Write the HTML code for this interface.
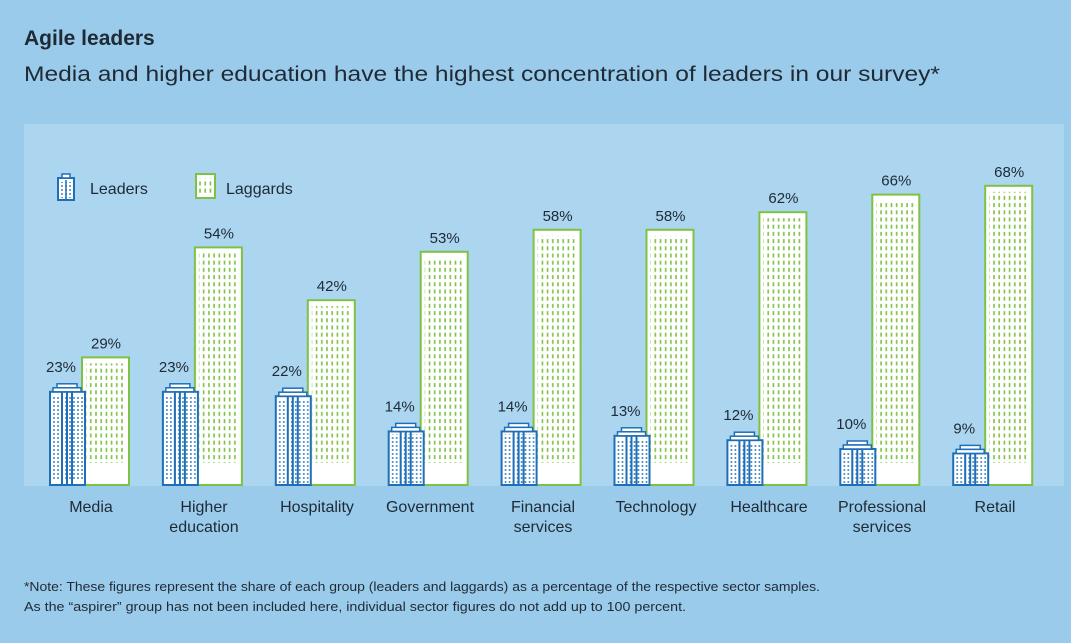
<!DOCTYPE html>
<html><head><meta charset="utf-8"><style>
body{margin:0;width:1071px;height:643px;background:#9bcbea;overflow:hidden}
svg{display:block}
text{font-family:"Liberation Sans",sans-serif;fill:#1e2a36}
.gb{fill:#fff;stroke:#7dc242;stroke-width:2}
.gp{fill:url(#gd)}
.lb{fill:#fff;stroke:#1e6fb8;stroke-width:2}
.lc{fill:#fff;stroke:#1e6fb8;stroke-width:1.5}
.lp{fill:url(#bd)}
.ll{stroke:#1e6fb8;stroke-width:2}
.v{font-size:15px;text-anchor:middle}
</style></head><body>
<svg width="1071" height="643" viewBox="0 0 1071 643">
<defs>
<pattern id="gd" x="0" y="0" width="5.2" height="7.2" patternUnits="userSpaceOnUse">
<rect x="1.6" y="1.5" width="1.6" height="4" fill="#7dc242"/>
</pattern>
<pattern id="bd" x="0" y="0" width="4" height="4" patternUnits="userSpaceOnUse">
<rect x="1.2" y="1.2" width="1.6" height="1.6" fill="#1e6fb8"/>
</pattern>
</defs>
<rect x="0" y="0" width="1071" height="643" fill="#9bcbea"/>
<rect x="24" y="124" width="1040" height="362" fill="#acd5ef"/>
<text x="24" y="45" font-size="21" font-weight="bold" fill="#0b0b0b">Agile leaders</text>
<text x="24" y="81" font-size="21" textLength="916" lengthAdjust="spacingAndGlyphs">Media and higher education have the highest concentration of leaders in our survey*</text>

<g>
<rect x="58" y="178" width="16" height="22" fill="#fff" stroke="#1e6fb8" stroke-width="2"/>
<rect x="62" y="174" width="8" height="4" fill="#fff" stroke="#1e6fb8" stroke-width="1.5"/>
<rect x="61" y="182" width="10" height="16" fill="url(#bd)"/>
<line x1="66" y1="180" x2="66" y2="200" stroke="#1e6fb8" stroke-width="1.5"/>
<text x="90" y="194" font-size="16">Leaders</text>
<rect x="196" y="174" width="19" height="24" fill="#fff" stroke="#7dc242" stroke-width="2"/>
<rect x="199" y="178" width="14" height="16" fill="url(#gd)"/>
<text x="226" y="194" font-size="16">Laggards</text>
</g>

<!-- G0 -->
<g>
<rect class="gb" x="82" y="357.4" width="47" height="127.6"/><rect class="gp" x="86" y="363.4" width="40" height="99.6"/><text class="v" x="106" y="348.4">29%</text>
<rect class="lb" x="50" y="391.8" width="35" height="93.2"/><rect class="lc" x="57" y="383.8" width="20" height="4"/><rect class="lc" x="53" y="387.8" width="28" height="4"/><rect class="lp" x="52" y="394.8" width="31" height="86"/>
<line class="ll" x1="62" y1="391.8" x2="62" y2="485"/><line class="ll" x1="67" y1="391.8" x2="67" y2="485"/><line class="ll" x1="72" y1="391.8" x2="72" y2="485"/>
<text class="v" x="61" y="371.8">23%</text>
</g>
<g transform="translate(112.9,0)">
<rect class="gb" x="82" y="247.4" width="47" height="237.6"/><rect class="gp" x="86" y="253.4" width="40" height="209.6"/><text class="v" x="106" y="238.4">54%</text>
<rect class="lb" x="50" y="391.8" width="35" height="93.2"/><rect class="lc" x="57" y="383.8" width="20" height="4"/><rect class="lc" x="53" y="387.8" width="28" height="4"/><rect class="lp" x="52" y="394.8" width="31" height="86"/>
<line class="ll" x1="62" y1="391.8" x2="62" y2="485"/><line class="ll" x1="67" y1="391.8" x2="67" y2="485"/><line class="ll" x1="72" y1="391.8" x2="72" y2="485"/>
<text class="v" x="61" y="371.8">23%</text>
</g>
<g transform="translate(225.8,0)">
<rect class="gb" x="82" y="300.2" width="47" height="184.8"/><rect class="gp" x="86" y="306.2" width="40" height="156.8"/><text class="v" x="106" y="291.2">42%</text>
<rect class="lb" x="50" y="396.2" width="35" height="88.8"/><rect class="lc" x="57" y="388.2" width="20" height="4"/><rect class="lc" x="53" y="392.2" width="28" height="4"/><rect class="lp" x="52" y="399.2" width="31" height="84.8"/>
<line class="ll" x1="62" y1="396.2" x2="62" y2="485"/><line class="ll" x1="67" y1="396.2" x2="67" y2="485"/><line class="ll" x1="72" y1="396.2" x2="72" y2="485"/>
<text class="v" x="61" y="376.2">22%</text>
</g>
<g transform="translate(338.7,0)">
<rect class="gb" x="82" y="251.8" width="47" height="233.2"/><rect class="gp" x="86" y="257.8" width="40" height="205.2"/><text class="v" x="106" y="242.8">53%</text>
<rect class="lb" x="50" y="431.4" width="35" height="53.6"/><rect class="lc" x="57" y="423.4" width="20" height="4"/><rect class="lc" x="53" y="427.4" width="28" height="4"/><rect class="lp" x="52" y="434.4" width="31" height="49.6"/>
<line class="ll" x1="62" y1="431.4" x2="62" y2="485"/><line class="ll" x1="67" y1="431.4" x2="67" y2="485"/><line class="ll" x1="72" y1="431.4" x2="72" y2="485"/>
<text class="v" x="61" y="411.4">14%</text>
</g>
<g transform="translate(451.6,0)">
<rect class="gb" x="82" y="229.8" width="47" height="255.2"/><rect class="gp" x="86" y="235.8" width="40" height="227.2"/><text class="v" x="106" y="220.8">58%</text>
<rect class="lb" x="50" y="431.4" width="35" height="53.6"/><rect class="lc" x="57" y="423.4" width="20" height="4"/><rect class="lc" x="53" y="427.4" width="28" height="4"/><rect class="lp" x="52" y="434.4" width="31" height="49.6"/>
<line class="ll" x1="62" y1="431.4" x2="62" y2="485"/><line class="ll" x1="67" y1="431.4" x2="67" y2="485"/><line class="ll" x1="72" y1="431.4" x2="72" y2="485"/>
<text class="v" x="61" y="411.4">14%</text>
</g>
<g transform="translate(564.5,0)">
<rect class="gb" x="82" y="229.8" width="47" height="255.2"/><rect class="gp" x="86" y="235.8" width="40" height="227.2"/><text class="v" x="106" y="220.8">58%</text>
<rect class="lb" x="50" y="435.8" width="35" height="49.2"/><rect class="lc" x="57" y="427.8" width="20" height="4"/><rect class="lc" x="53" y="431.8" width="28" height="4"/><rect class="lp" x="52" y="438.8" width="31" height="45.2"/>
<line class="ll" x1="62" y1="435.8" x2="62" y2="485"/><line class="ll" x1="67" y1="435.8" x2="67" y2="485"/><line class="ll" x1="72" y1="435.8" x2="72" y2="485"/>
<text class="v" x="61" y="415.8">13%</text>
</g>
<g transform="translate(677.4,0)">
<rect class="gb" x="82" y="212.2" width="47" height="272.8"/><rect class="gp" x="86" y="218.2" width="40" height="244.8"/><text class="v" x="106" y="203.2">62%</text>
<rect class="lb" x="50" y="440.2" width="35" height="44.8"/><rect class="lc" x="57" y="432.2" width="20" height="4"/><rect class="lc" x="53" y="436.2" width="28" height="4"/><rect class="lp" x="52" y="443.2" width="31" height="40.8"/>
<line class="ll" x1="62" y1="440.2" x2="62" y2="485"/><line class="ll" x1="67" y1="440.2" x2="67" y2="485"/><line class="ll" x1="72" y1="440.2" x2="72" y2="485"/>
<text class="v" x="61" y="420.2">12%</text>
</g>
<g transform="translate(790.3,0)">
<rect class="gb" x="82" y="194.6" width="47" height="290.4"/><rect class="gp" x="86" y="200.6" width="40" height="262.4"/><text class="v" x="106" y="185.6">66%</text>
<rect class="lb" x="50" y="449" width="35" height="36"/><rect class="lc" x="57" y="441" width="20" height="4"/><rect class="lc" x="53" y="445" width="28" height="4"/><rect class="lp" x="52" y="452" width="31" height="32"/>
<line class="ll" x1="62" y1="449" x2="62" y2="485"/><line class="ll" x1="67" y1="449" x2="67" y2="485"/><line class="ll" x1="72" y1="449" x2="72" y2="485"/>
<text class="v" x="61" y="429">10%</text>
</g>
<g transform="translate(903.2,0)">
<rect class="gb" x="82" y="185.8" width="47" height="299.2"/><rect class="gp" x="86" y="191.8" width="40" height="271.2"/><text class="v" x="106" y="176.8">68%</text>
<rect class="lb" x="50" y="453.4" width="35" height="31.6"/><rect class="lc" x="57" y="445.4" width="20" height="4"/><rect class="lc" x="53" y="449.4" width="28" height="4"/><rect class="lp" x="52" y="456.4" width="31" height="27.6"/>
<line class="ll" x1="62" y1="453.4" x2="62" y2="485"/><line class="ll" x1="67" y1="453.4" x2="67" y2="485"/><line class="ll" x1="72" y1="453.4" x2="72" y2="485"/>
<text class="v" x="61" y="433.4">9%</text>
</g>

<g font-size="16" text-anchor="middle">
<text x="91" y="512">Media</text>
<text x="204" y="512">Higher</text><text x="204" y="532">education</text>
<text x="317" y="512">Hospitality</text>
<text x="430" y="512">Government</text>
<text x="543" y="512">Financial</text><text x="543" y="532">services</text>
<text x="656" y="512">Technology</text>
<text x="769" y="512">Healthcare</text>
<text x="882" y="512">Professional</text><text x="882" y="532">services</text>
<text x="995" y="512">Retail</text>
</g>
<text x="24" y="591" font-size="13" textLength="796" lengthAdjust="spacingAndGlyphs">*Note: These figures represent the share of each group (leaders and laggards) as a percentage of the respective sector samples.</text>
<text x="24" y="611" font-size="13" textLength="662" lengthAdjust="spacingAndGlyphs">As the “aspirer” group has not been included here, individual sector figures do not add up to 100 percent.</text>
</svg>
</body></html>
